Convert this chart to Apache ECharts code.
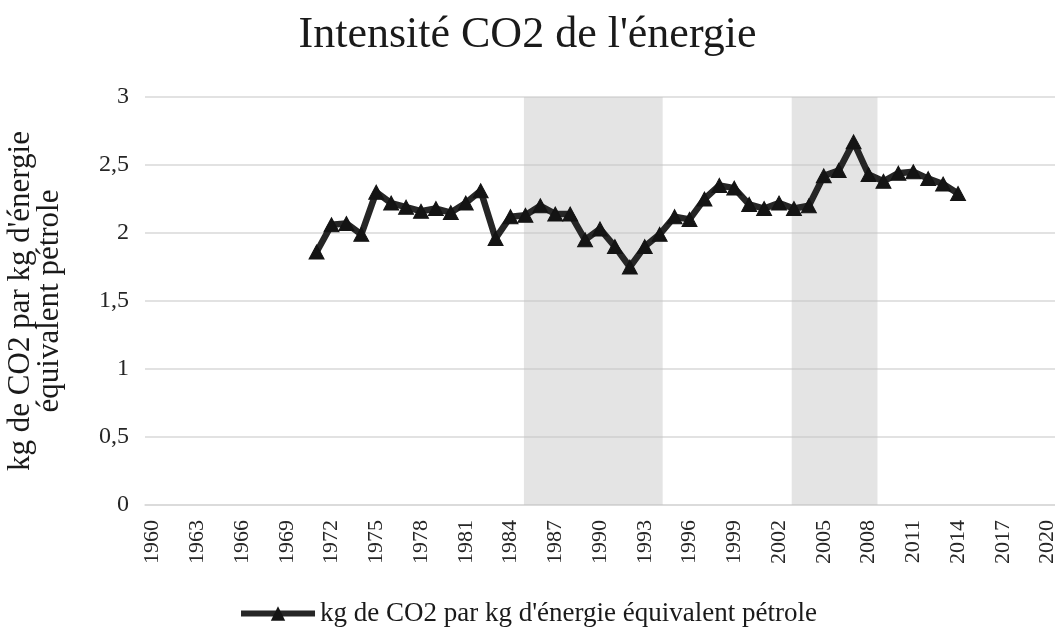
<!DOCTYPE html>
<html>
<head>
<meta charset="utf-8">
<script src="https://cdn.jsdelivr.net/npm/echarts@6/dist/echarts.min.js"></script>
<style>
  html, body { margin: 0; padding: 0; background: #fff; }
  #chart { width: 1055px; height: 634px; }
</style>
</head>
<body>
<div id="chart"></div>
<script>
const years = [];
for (let y = 1960; y <= 2020; y++) years.push(String(y));

const dataYears = [1971, 1972, 1973, 1974, 1975, 1976, 1977, 1978, 1979, 1980,
  1981, 1982, 1983, 1984, 1985, 1986, 1987, 1988, 1989, 1990,
  1991, 1992, 1993, 1994, 1995, 1996, 1997, 1998, 1999, 2000,
  2001, 2002, 2003, 2004, 2005, 2006, 2007, 2008, 2009, 2010,
  2011, 2012, 2013, 2014];
const intensity = [1.86, 2.06, 2.07, 1.99, 2.30, 2.22, 2.19, 2.16, 2.18, 2.15,
  2.22, 2.31, 1.96, 2.12, 2.13, 2.20, 2.14, 2.14, 1.95, 2.03,
  1.90, 1.75, 1.90, 1.99, 2.12, 2.10, 2.25, 2.35, 2.33, 2.21,
  2.18, 2.22, 2.18, 2.20, 2.42, 2.46, 2.67, 2.43, 2.38, 2.44,
  2.45, 2.40, 2.36, 2.29];

// shaded periods: [start, end, top]
const periods = [
  [1984.9, 1994.2, 3.06],
  [2002.85, 2008.6, 3.08]
];

const seriesName = "kg de CO2 par kg d'énergie équivalent pétrole";
const font = "'Liberation Serif', 'DejaVu Serif', serif";

const lineData = years.map(function (y) {
  const i = dataYears.indexOf(Number(y));
  return i >= 0 ? intensity[i] : null;
});

const chart = echarts.init(document.getElementById("chart"));

chart.setOption({
  backgroundColor: "#fff",
  animation: false,
  textStyle: { fontFamily: font, color: "#262626" },
  title: {
    text: "Intensité CO2 de l'énergie",
    left: "center",
    top: 8,
    textStyle: { fontFamily: font, fontSize: 44, fontWeight: "normal", color: "#1a1a1a" }
  },
  grid: { left: 145, right: 0, top: 97, bottom: 129, outerBoundsMode: "none", containLabel: false },
  legend: {
    bottom: 2,
    left: "center",
    itemWidth: 74,
    itemHeight: 18,
    itemGap: 10,
    lineStyle: { width: 6, color: "#262626" },
    textStyle: { fontFamily: font, fontSize: 27, color: "#1a1a1a" },
    data: [seriesName]
  },
  xAxis: [
    {
      type: "category",
      data: years,
      boundaryGap: true,
      axisLine: { lineStyle: { color: "#d9d9d9", width: 1.5 } },
      axisTick: { show: false },
      axisLabel: {
        interval: 2,
        rotate: 90,
        fontFamily: font,
        fontSize: 22,
        color: "#262626",
        margin: 15
      }
    },
    {
      type: "value",
      min: 1959.5,
      max: 2020.5,
      show: false
    }
  ],
  yAxis: {
    type: "value",
    min: 0,
    max: 3,
    interval: 0.5,
    name: "kg de CO2 par kg d'énergie\néquivalent pétrole",
    nameLocation: "middle",
    nameRotate: 90,
    nameGap: 81,
    nameTextStyle: { fontFamily: font, fontSize: 31, color: "#1a1a1a", lineHeight: 29 },
    axisLine: { show: false },
    axisTick: { show: false },
    splitLine: { lineStyle: { color: "#d9d9d9", width: 1.5 } },
    axisLabel: {
      fontFamily: font,
      fontSize: 24,
      color: "#262626",
      margin: 16,
      formatter: function (v) { return String(v).replace(".", ","); }
    }
  },
  series: [
    {
      name: "shading",
      type: "line",
      xAxisIndex: 1,
      data: [],
      silent: true,
      markArea: {
        silent: true,
        itemStyle: { color: "rgba(195,195,195,0.45)" },
        data: periods.map(function (p) {
          return [{ xAxis: p[0], yAxis: 0 }, { xAxis: p[1], yAxis: p[2] }];
        })
      }
    },
    {
      name: seriesName,
      type: "line",
      data: lineData,
      symbol: "triangle",
      symbolSize: [15, 14],
      showAllSymbol: true,
      lineStyle: { color: "#262626", width: 6.5 },
      itemStyle: { color: "#141414", borderColor: "#141414" },
      z: 5
    }
  ]
});
</script>
</body>
</html>
